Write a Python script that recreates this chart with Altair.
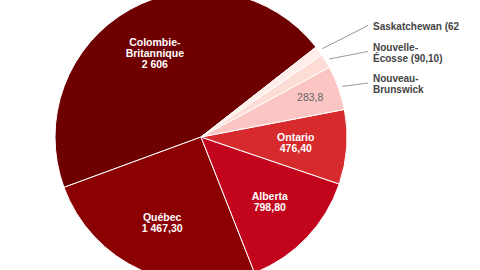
import math
import altair as alt
import pandas as pd

# ---- data ----
provinces = ["Colombie-Britannique", "Québec", "Alberta", "Ontario",
             "Nouveau-Brunswick", "Nouvelle-Écosse", "Saskatchewan"]
values = [2606, 1467.3, 798.8, 476.4, 283.8, 90.1, 62]
inner_labels = ["Colombie-\nBritannique\n2 606", "Québec\n1 467,30", "Alberta\n798,80",
                "Ontario\n476,40", "", "", ""]
value_labels = ["", "", "", "", "283,8", "", ""]
outer_labels = ["", "", "", "", "Nouveau-\nBrunswick", "Nouvelle-\nÉcosse (90,10)",
                "Saskatchewan (62"]

# ---- styles / layout ----
colors = ["#6f0000", "#8b0000", "#c2051c", "#d62a2c", "#fac5c3", "#fddcd6", "#feede8"]
CX, CY, R = 201, 137, 146
START = math.radians(52)
FONT = "Liberation Sans"
LH_IN = 11
LH_OUT = 11

df = pd.DataFrame({"name": provinces, "value": values, "inner": inner_labels,
                   "vlab": value_labels, "outer": outer_labels})
TOTAL = float(sum(values))

theta_scale = alt.Scale(domain=[0, TOTAL], range=[START, START + 2 * math.pi],
                        nice=False, zero=True)

base = alt.Chart(df)

arcs = base.mark_arc(outerRadius=R, stroke="white", strokeWidth=1).encode(
    theta=alt.Theta("v0:Q", scale=theta_scale, stack=False),
    theta2="v1:Q",
    color=alt.Color("name:N", scale=alt.Scale(domain=provinces, range=colors), legend=None),
    x=alt.value(CX), y=alt.value(CY),
)


def inner_layer(n):
    return base.transform_filter("datum.inner != ''").transform_calculate(
        lines="split(datum.inner, '\\n')"
    ).transform_filter(f"length(datum.lines) == {n}").mark_text(
        radius=95, font=FONT, fontSize=10.5, fontWeight="bold", color="white",
        lineHeight=LH_IN, align="center", baseline="middle", dy=-(n - 1) * LH_IN / 2
    ).encode(theta=alt.Theta("mid:Q", stack=False), text="lines:N",
             x=alt.value(CX), y=alt.value(CY))


vlab = base.transform_filter("datum.vlab != ''").mark_text(
    radius=116, font=FONT, fontSize=10.5, color="#666666", align="center",
    baseline="middle").encode(theta=alt.Theta("mid:Q", stack=False), text="vlab:N",
                              x=alt.value(CX), y=alt.value(CY))

outer_base = base.transform_filter("datum.outer != ''").transform_calculate(
    lines="split(datum.outer, '\\n')",
).transform_calculate(
    h=f"length(datum.lines) * {LH_OUT}",
).transform_window(
    rk="row_number()", cum="sum(h)", sort=[alt.SortField("v0", order="ascending")]
).transform_calculate(
    ang=f"{START} + datum.mid / datum.total * 2 * PI",
    top="21.5 + (datum.cum - datum.h) + (datum.rk - 1) * 9.5",
).transform_calculate(
    lx0=f"{CX} + 150 * sin(datum.ang)",
    ly0=f"{CY} - 150 * cos(datum.ang)",
    lc="datum.top + datum.h / 2 - 1.5",
    ty=f"datum.top + {LH_OUT} / 2",
)

leaders = outer_base.mark_rule(color="#999999", strokeWidth=1).encode(
    x=alt.X("lx0:Q", scale=None, axis=None),
    y=alt.Y("ly0:Q", scale=None, axis=None),
    x2=alt.value(368),
    y2="lc:Q",
)

outer_text = outer_base.mark_text(font=FONT, fontSize=10, fontWeight="bold", color="#444444",
                                  align="left", baseline="middle", lineHeight=LH_OUT).encode(
    x=alt.value(373),
    y=alt.Y("ty:Q", scale=None, axis=None),
    text="lines:N",
)

chart = alt.layer(arcs, inner_layer(2), inner_layer(3), vlab, leaders, outer_text).transform_stack(
    as_=["v0", "v1"], stack="value", groupby=[],
    sort=[alt.SortField("value", order="ascending")]
).transform_joinaggregate(total="sum(value)").transform_calculate(
    mid="(datum.v0 + datum.v1) / 2"
).properties(
    width=480, height=270, padding=0, autosize=alt.AutoSizeParams(type="none"),
    background="white"
).configure_view(stroke=None)

chart.save("out.html", embed_options={"renderer": "svg", "actions": False})
